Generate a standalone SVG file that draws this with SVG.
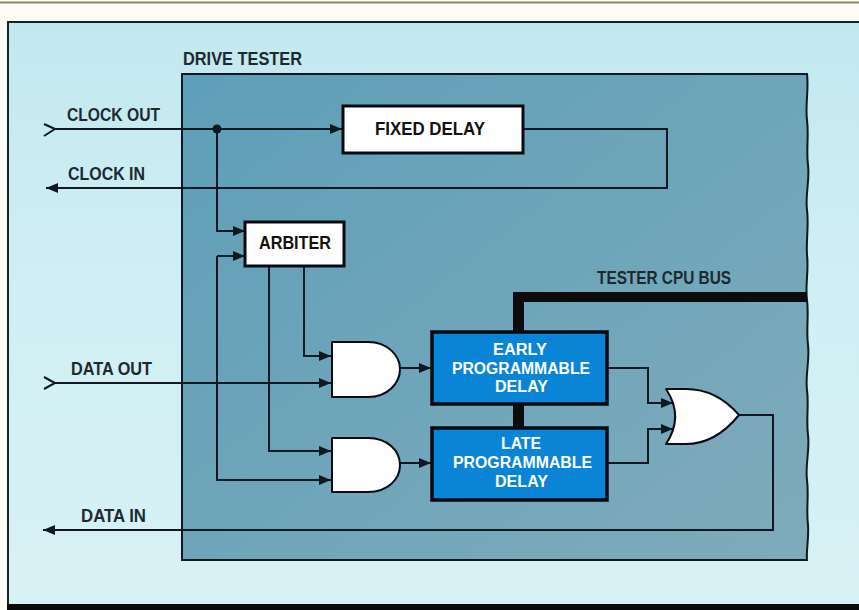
<svg xmlns="http://www.w3.org/2000/svg" width="859" height="610" viewBox="0 0 859 610">
<style>
.t{font-family:"Liberation Sans",Arial,sans-serif;font-weight:700;font-size:18px;fill:#1c2a30}
.n{fill:#111}
.w{fill:#fff;font-size:16px}
.k{fill:#0c0c0c}
.box{fill:#fff;stroke:#0a0a12;stroke-width:3}
.prog{fill:#0a84d6;stroke:#0a0a12;stroke-width:3.5}
.gate{fill:#fff;stroke:#0a0a12;stroke-width:2;stroke-linejoin:round}
.c{fill:none;stroke:#101822;stroke-width:2}
.a{marker-end:url(#arrow)}
</style>
<defs>
<marker id="arrow" markerUnits="userSpaceOnUse" markerWidth="14" markerHeight="12" refX="12" refY="6" orient="auto"><path d="M0 1 L12 6 L0 11 Z" fill="#101822"/></marker>
<linearGradient id="bg" x1="0" y1="0" x2="0" y2="1"><stop offset="0" stop-color="#c2e8ef"/><stop offset="0.45" stop-color="#d0eff4"/><stop offset="1" stop-color="#d8f1f5"/></linearGradient>
<linearGradient id="panel" x1="0" y1="0" x2="1" y2="1"><stop offset="0" stop-color="#5e9fb9"/><stop offset="1" stop-color="#7fabbb"/></linearGradient>
</defs>
<rect width="859" height="610" fill="#fdfdf6"/>
<rect x="0" y="1.5" width="859" height="2" fill="#8a8a60"/>
<g id="frame">
<rect x="8" y="22" width="860" height="583" fill="url(#bg)" stroke="#1a2228" stroke-width="2"/>
<rect x="7" y="604" width="852" height="6" fill="#0a0a0a"/>
</g>
<g id="drive-tester">
<path d="M182 74 H807 C809 90 805 105 807 120 C809 135 806 150 808 165 C810 180 805 195 807 210 C809 225 806 240 807 255 C809 270 805 285 807 300 C809 315 806 330 808 345 C810 360 805 375 807 390 C809 405 806 420 808 435 C810 450 805 465 807 480 C809 495 806 510 808 525 C809 540 806 550 807 560 H182 Z" fill="url(#panel)" stroke="#101820" stroke-width="2"/>
<text class="t" x="183" y="65" textLength="119" lengthAdjust="spacingAndGlyphs">DRIVE TESTER</text>
</g>
<g id="labels">
<text class="t" x="67" y="121" textLength="93" lengthAdjust="spacingAndGlyphs">CLOCK OUT</text>
<text class="t" x="68" y="180" textLength="77" lengthAdjust="spacingAndGlyphs">CLOCK IN</text>
<text class="t" x="71" y="375" textLength="81" lengthAdjust="spacingAndGlyphs">DATA OUT</text>
<text class="t" x="81" y="522" textLength="65" lengthAdjust="spacingAndGlyphs">DATA IN</text>
<text class="t" x="597" y="284" textLength="134" lengthAdjust="spacingAndGlyphs">TESTER CPU BUS</text>
</g>
<g id="connectors">
<path class="k" d="M513 292 H807 V302 H524 V332 H513 Z"/>
<rect class="k" x="513" y="404" width="11" height="24"/>
<path class="c" d="M44 124 L55 129 L44 136"/>
<path class="c" d="M44 377 L55 383 L44 389"/>
<path class="c a" d="M55 129 H342"/>
<path class="c a" d="M523 129 H667 V188 H46"/>
<circle cx="217" cy="129" r="4.5" fill="#101822"/>
<path class="c a" d="M217 129 V231 H245"/>
<path class="c a" d="M217 256 H245"/>
<path class="c a" d="M217 256 V480 H331"/>
<path class="c a" d="M304 266 V356 H331"/>
<path class="c a" d="M269 266 V451 H331"/>
<path class="c a" d="M55 383 H331"/>
<path class="c a" d="M400 368 H431"/>
<path class="c a" d="M400 463 H431"/>
<path class="c a" d="M607 368 H648 V403 H673"/>
<path class="c a" d="M607 463 H648 V429 H673"/>
<path class="c a" d="M739 415 H773 V530 H43"/>
</g>
<g id="fixed-delay">
<rect class="box" x="343" y="106" width="180" height="47"/>
<text class="t n" x="375" y="135" textLength="110" lengthAdjust="spacingAndGlyphs">FIXED DELAY</text>
</g>
<g id="arbiter">
<rect class="box" x="245" y="222" width="99" height="44"/>
<text class="t n" x="259" y="249" textLength="72" lengthAdjust="spacingAndGlyphs">ARBITER</text>
</g>
<g id="and-top">
<path class="gate" d="M332 342 H368 C388 342 400 356 400 369 C400 383 388 397 368 397 H332 Z"/>
</g>
<g id="and-bottom">
<path class="gate" d="M332 438 H368 C388 438 400 451 400 465 C400 479 388 492 368 492 H332 Z"/>
</g>
<g id="early-delay">
<rect class="prog" x="432" y="332" width="175" height="72"/>
<text class="t w" x="493" y="355" textLength="54" lengthAdjust="spacingAndGlyphs">EARLY</text>
<text class="t w" x="452" y="373.5" textLength="138" lengthAdjust="spacingAndGlyphs">PROGRAMMABLE</text>
<text class="t w" x="495" y="392" textLength="53" lengthAdjust="spacingAndGlyphs">DELAY</text>
</g>
<g id="late-delay">
<rect class="prog" x="432" y="428" width="175" height="72"/>
<text class="t w" x="501" y="449" textLength="40" lengthAdjust="spacingAndGlyphs">LATE</text>
<text class="t w" x="453" y="467.5" textLength="139" lengthAdjust="spacingAndGlyphs">PROGRAMMABLE</text>
<text class="t w" x="495" y="486.5" textLength="53" lengthAdjust="spacingAndGlyphs">DELAY</text>
</g>
<g id="or-gate">
<path class="gate" d="M666 389 H686 C708 389 726 400 739 415 C726 431 708 444 686 444 H666 C678 426 678 407 666 389 Z"/>
</g>
</svg>
